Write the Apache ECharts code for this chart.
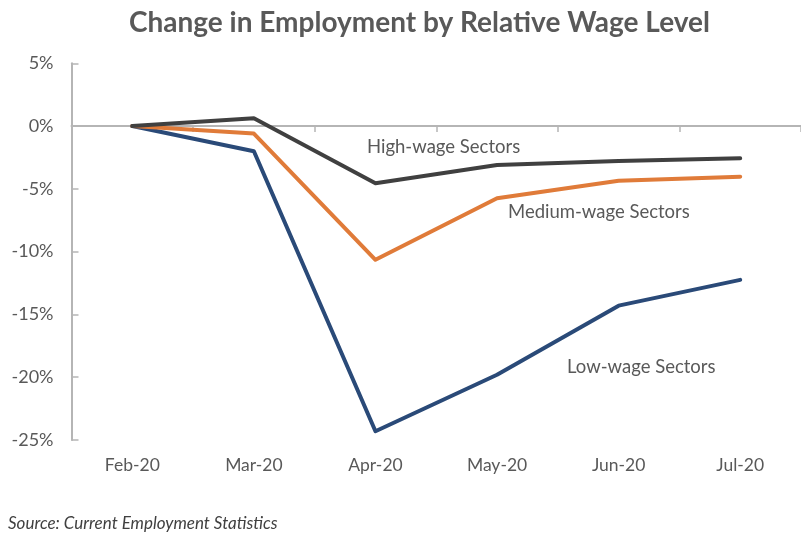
<!DOCTYPE html>
<html>
<head>
<meta charset="utf-8">
<script src="https://cdn.jsdelivr.net/npm/echarts@6/dist/echarts.min.js"></script>
<style>
  html, body { margin: 0; padding: 0; background: #ffffff; }
  #chart { width: 801px; height: 535px; }
</style>
</head>
<body>
<div id="chart"></div>
<script>
// Monthly categories
const months = ['Feb-20', 'Mar-20', 'Apr-20', 'May-20', 'Jun-20', 'Jul-20'];

// Percent change in employment since February 2020
const highWage = [0, 0.62, -4.55, -3.1, -2.78, -2.57];
const mediumWage = [0, -0.6, -10.65, -5.75, -4.35, -4.03];
const lowWage = [0, -2.0, -24.3, -19.8, -14.3, -12.25];

// Value axis range and step
const yMin = -25;
const yMax = 5;
const yStep = 5;

const FONT = 'Lato, "Open Sans", sans-serif';
const TEXT_GRAY = '#595959';

const chart = echarts.init(document.getElementById('chart'), null, { renderer: 'canvas' });

function lineSeries(name, data, color) {
  return {
    name: name,
    type: 'line',
    data: data,
    symbol: 'none',
    lineStyle: { color: color, width: 4, cap: 'round', join: 'round' },
    itemStyle: { color: color },
    z: 3
  };
}

chart.setOption({
  backgroundColor: '#ffffff',
  animation: false,
  title: {
    text: 'Change in Employment by Relative Wage Level',
    left: 124,
    top: 4,
    textStyle: { fontFamily: FONT, fontWeight: 'bold', fontSize: 28, color: TEXT_GRAY }
  },
  grid: { left: 71.5, right: -7, top: 63.3, bottom: 95 },
  xAxis: {
    type: 'category',
    data: months,
    boundaryGap: true,
    axisLine: { onZero: true, lineStyle: { color: '#b5b5b5', width: 2 } },
    axisTick: { show: true, inside: false, length: 6, lineStyle: { color: '#b5b5b5', width: 1.5 } },
    axisLabel: {
      interval: 0,
      fontFamily: FONT,
      fontSize: 17.5,
      color: TEXT_GRAY,
      margin: 16
    },
    splitLine: { show: false }
  },
  yAxis: {
    type: 'value',
    min: yMin,
    max: yMax,
    interval: yStep,
    axisLine: { show: true, lineStyle: { color: '#b5b5b5', width: 2 } },
    axisTick: { show: true, inside: true, length: 7, lineStyle: { color: '#b5b5b5', width: 1.5 } },
    axisLabel: {
      formatter: v => v + '%',
      fontFamily: FONT,
      fontSize: 18,
      color: TEXT_GRAY,
      margin: 18
    },
    splitLine: { show: false }
  },
  series: [
    lineSeries('Low-wage Sectors', lowWage, '#2a4a78'),
    lineSeries('Medium-wage Sectors', mediumWage, '#e07b39'),
    lineSeries('High-wage Sectors', highWage, '#404040')
  ],
  graphic: [
    {
      type: 'text', left: 367, top: 138,
      style: { text: 'High-wage Sectors', font: '18.5px ' + FONT, fill: TEXT_GRAY }
    },
    {
      type: 'text', left: 508, top: 203,
      style: { text: 'Medium-wage Sectors', font: '18.5px ' + FONT, fill: TEXT_GRAY }
    },
    {
      type: 'text', left: 567, top: 358,
      style: { text: 'Low-wage Sectors', font: '18.5px ' + FONT, fill: TEXT_GRAY }
    },
    {
      type: 'text', left: 8, top: 515,
      style: { text: 'Source: Current Employment Statistics', font: 'italic 17px ' + FONT, fill: '#404040' }
    }
  ]
});
</script>
</body>
</html>
